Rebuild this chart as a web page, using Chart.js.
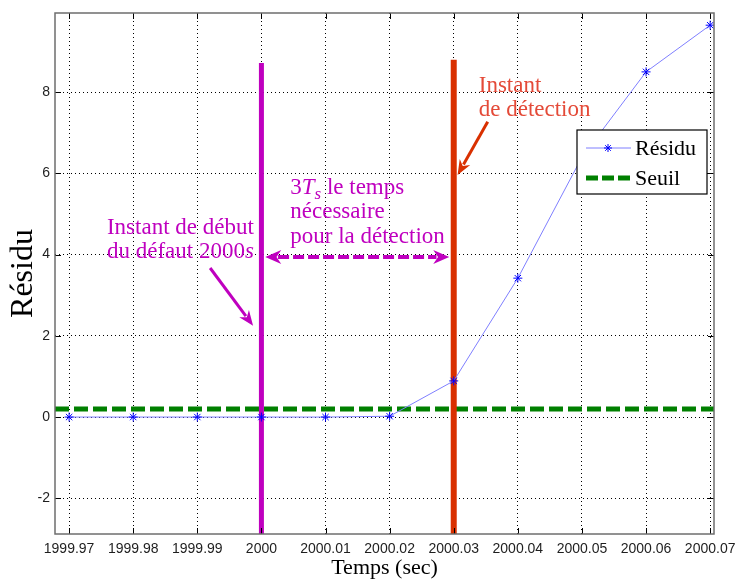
<!DOCTYPE html>
<html>
<head>
<meta charset="utf-8">
<title>Résidu</title>
<script src="https://cdn.jsdelivr.net/npm/chart.js@4/dist/chart.umd.min.js"></script>
<style>
    html, body { margin: 0; padding: 0; background: #fff; }
    #wrap { width: 737px; height: 579px; }
</style>
</head>
<body>
<div id="wrap"><canvas id="chart" width="737" height="579"></canvas></div>
<script>
// sample times (sec)
var temps = [1999.97, 1999.98, 1999.99, 2000, 2000.01, 2000.02, 2000.03, 2000.04, 2000.05, 2000.06, 2000.07];
// residual values
var residu = [0, 0, 0, 0, 0, 0.02, 0.89, 3.42, 6.4, 8.5, 9.65];
// detection threshold
var seuil = 0.2;
// tick values and labels
var xTicks = [1999.97, 1999.98, 1999.99, 2000, 2000.01, 2000.02, 2000.03, 2000.04, 2000.05, 2000.06, 2000.07];
var xTickLabels = ['1999.97', '1999.98', '1999.99', '2000', '2000.01', '2000.02', '2000.03', '2000.04', '2000.05', '2000.06', '2000.07'];
var yTicks = [-2, 0, 2, 4, 6, 8];
var yTickLabels = ['-2', '0', '2', '4', '6', '8'];
// axis limits
var xLimits = [1999.9678, 2000.0706];
var yLimits = [-2.88, 9.95];
// fault start and detection instants (x, top of the line)
var debut = [2000, 8.72];
var detection = [2000.03, 8.8];

var MAGENTA = '#bf00bf';
var RED = '#d93000';
var SERIF = '"Liberation Serif", "Times New Roman", serif';
var TXT = 23;

// build point lists for the library
function toPoints(xs, ys) {
    var pts = [];
    for (var i = 0; i < xs.length; i++) {
        pts.push({ x: xs[i], y: ys[i] });
    }
    return pts;
}

// draw a list of text runs (normal / italic / subscript) from x, y baseline
function drawRuns(ctx, x, y, runs, size, color) {
    ctx.fillStyle = color;
    ctx.textBaseline = 'alphabetic';
    ctx.textAlign = 'left';
    for (var i = 0; i < runs.length; i++) {
        var r = runs[i];
        var s = r.sub ? Math.round(size * 0.72) : size;
        ctx.font = (r.italic ? 'italic ' : '') + s + 'px ' + SERIF;
        ctx.fillText(r.t, x, y + (r.sub ? size * 0.22 : 0));
        x += ctx.measureText(r.t).width;
    }
}

// draw an arrow between two pixel points
function drawArrow(ctx, x1, y1, x2, y2, color, width, headLen, headHalf, dash, both) {
    var ang = Math.atan2(y2 - y1, x2 - x1);
    ctx.save();
    ctx.strokeStyle = color;
    ctx.fillStyle = color;
    ctx.lineWidth = width;
    ctx.setLineDash(dash || []);
    ctx.beginPath();
    var sx = both ? x1 + Math.cos(ang) * headLen * 0.8 : x1;
    var sy = both ? y1 + Math.sin(ang) * headLen * 0.8 : y1;
    ctx.moveTo(sx, sy);
    ctx.lineTo(x2 - Math.cos(ang) * headLen * 0.8, y2 - Math.sin(ang) * headLen * 0.8);
    ctx.stroke();
    ctx.setLineDash([]);
    var heads = both ? [[x2, y2, ang], [x1, y1, ang + Math.PI]] : [[x2, y2, ang]];
    heads.forEach(function(h) {
        var hx = h[0], hy = h[1], a = h[2];
        var bx = hx - Math.cos(a) * headLen, by = hy - Math.sin(a) * headLen;
        ctx.beginPath();
        ctx.moveTo(hx, hy);
        ctx.lineTo(bx + Math.sin(a) * headHalf, by - Math.cos(a) * headHalf);
        ctx.lineTo(hx - Math.cos(a) * headLen * 0.7, hy - Math.sin(a) * headLen * 0.7);
        ctx.lineTo(bx - Math.sin(a) * headHalf, by + Math.cos(a) * headHalf);
        ctx.closePath();
        ctx.fill();
    });
    ctx.restore();
}

// plugin that writes the annotations and arrows
var annotationsPlugin = {
    id: 'annotations',
    afterDatasetsDraw: function(chart) {
        var ctx = chart.ctx;
        var xs = chart.scales.x, ys = chart.scales.y;
        var px = function(v) { return xs.getPixelForValue(v); };
        var py = function(v) { return ys.getPixelForValue(v); };
        ctx.save();
        // start of fault text
        drawRuns(ctx, px(1999.9759), py(4.51), [{ t: 'Instant de début' }], TXT, MAGENTA);
        drawRuns(ctx, px(1999.9759), py(3.92), [{ t: 'du défaut 2000' }, { t: 's', italic: true }], TXT, MAGENTA);
        // delay text
        drawRuns(ctx, px(2000.0045), py(5.49), [{ t: '3' }, { t: 'T', italic: true }, { t: 's', italic: true, sub: true }, { t: ' le temps' }], TXT, MAGENTA);
        drawRuns(ctx, px(2000.0045), py(4.9), [{ t: 'nécessaire' }], TXT, MAGENTA);
        drawRuns(ctx, px(2000.0045), py(4.28), [{ t: 'pour la détection' }], TXT, MAGENTA);
        // detection text
        drawRuns(ctx, px(2000.0339), py(8.0), [{ t: 'Instant' }], TXT, '#e44a38');
        drawRuns(ctx, px(2000.0339), py(7.42), [{ t: 'de détection' }], TXT, '#e44a38');
        // arrows
        drawArrow(ctx, px(1999.9920), py(3.67), px(1999.9987), py(2.25), MAGENTA, 3, 15, 6, null, false);
        drawArrow(ctx, px(2000.0353), py(7.27), px(2000.0306), py(5.96), RED, 3, 15, 6, null, false);
        drawArrow(ctx, px(2000.0006), py(3.94), px(2000.0293), py(3.94), MAGENTA, 4, 16, 7, [11, 4], true);
        ctx.restore();
    },
    afterDraw: function(chart) {
        var ctx = chart.ctx;
        var area = chart.chartArea;
        var xs = chart.scales.x, ys = chart.scales.y;
        ctx.save();
        // inward tick marks on all four sides
        ctx.strokeStyle = '#000';
        ctx.lineWidth = 1;
        ctx.beginPath();
        xTicks.forEach(function(v) {
            var x = Math.round(xs.getPixelForValue(v)) + 0.5;
            ctx.moveTo(x, area.bottom); ctx.lineTo(x, area.bottom - 6);
            ctx.moveTo(x, area.top); ctx.lineTo(x, area.top + 6);
        });
        yTicks.forEach(function(v) {
            var y = Math.round(ys.getPixelForValue(v)) + 0.5;
            ctx.moveTo(area.left, y); ctx.lineTo(area.left + 6, y);
            ctx.moveTo(area.right, y); ctx.lineTo(area.right - 6, y);
        });
        ctx.stroke();
        // frame
        ctx.strokeStyle = '#6e6e6e';
        ctx.lineWidth = 1.5;
        ctx.strokeRect(area.left, area.top, area.right - area.left, area.bottom - area.top);

        // legend box
        var lx = area.right - 137, ly = area.top + 117, lw = 130, lh = 64;
        ctx.fillStyle = '#fff';
        ctx.fillRect(lx, ly, lw, lh);
        ctx.strokeStyle = '#000';
        ctx.lineWidth = 1.2;
        ctx.strokeRect(lx, ly, lw, lh);
        // Résidu entry
        var y1 = ly + 18;
        ctx.strokeStyle = '#7f7fff';
        ctx.lineWidth = 1;
        ctx.beginPath();
        ctx.moveTo(lx + 9, y1); ctx.lineTo(lx + 54, y1);
        ctx.stroke();
        ctx.strokeStyle = '#0000ff';
        ctx.beginPath();
        var cx = lx + 31, r = 4;
        ctx.moveTo(cx - r, y1); ctx.lineTo(cx + r, y1);
        ctx.moveTo(cx, y1 - r); ctx.lineTo(cx, y1 + r);
        ctx.moveTo(cx - r * 0.7, y1 - r * 0.7); ctx.lineTo(cx + r * 0.7, y1 + r * 0.7);
        ctx.moveTo(cx - r * 0.7, y1 + r * 0.7); ctx.lineTo(cx + r * 0.7, y1 - r * 0.7);
        ctx.stroke();
        drawRuns(ctx, lx + 58, y1 + 7, [{ t: 'Résidu' }], 22, '#000');
        // Seuil entry
        var y2 = ly + 48;
        ctx.strokeStyle = '#008000';
        ctx.lineWidth = 5;
        ctx.setLineDash([12, 4]);
        ctx.beginPath();
        ctx.moveTo(lx + 9, y2); ctx.lineTo(lx + 54, y2);
        ctx.stroke();
        ctx.setLineDash([]);
        drawRuns(ctx, lx + 58, y2 + 7, [{ t: 'Seuil' }], 22, '#000');
        ctx.restore();
    }
};

var ctx = document.getElementById('chart').getContext('2d');
var chart = new Chart(ctx, {
    type: 'line',
    data: {
        datasets: [{
            label: 'Résidu',
            data: toPoints(temps, residu),
            borderColor: '#7f7fff',
            borderWidth: 1,
            pointStyle: 'star',
            pointRadius: 4.5,
            pointBorderColor: '#0000ff',
            pointBorderWidth: 1,
            pointBackgroundColor: '#0000ff',
            order: 0
        }, {
            label: 'début',
            data: toPoints([debut[0], debut[0]], [yLimits[0], debut[1]]),
            borderColor: MAGENTA,
            borderWidth: 5,
            pointRadius: 0,
            order: 1
        }, {
            label: 'détection',
            data: toPoints([detection[0], detection[0]], [yLimits[0], detection[1]]),
            borderColor: RED,
            borderWidth: 6,
            pointRadius: 0,
            order: 1
        }, {
            label: 'Seuil',
            data: toPoints(xLimits, [seuil, seuil]),
            borderColor: '#008000',
            borderWidth: 5,
            borderDash: [14, 5],
            pointRadius: 0,
            order: 2
        }]
    },
    options: {
        responsive: false,
        animation: false,
        devicePixelRatio: 1,
        layout: { padding: { top: 13, right: 23, left: 0, bottom: 0 } },
        plugins: {
            legend: { display: false },
            tooltip: { enabled: false }
        },
        scales: {
            x: {
                type: 'linear',
                min: xLimits[0],
                max: xLimits[1],
                afterBuildTicks: function(scale) {
                    scale.ticks = xTicks.map(function(v) { return { value: v }; });
                },
                afterFit: function(scale) {
                    scale.height = 45;
                    scale.paddingLeft = 0;
                    scale.paddingRight = 0;
                },
                ticks: {
                    autoSkip: false,
                    maxRotation: 0,
                    padding: 7,
                    color: '#1e1e1e',
                    font: { family: '"Liberation Sans", Arial, sans-serif', size: 14 },
                    callback: function(value, index) { return xTickLabels[index]; }
                },
                grid: { color: '#000', lineWidth: 1, drawTicks: false },
                border: { display: false, dash: [1, 3] },
                title: {
                    display: true,
                    text: 'Temps (sec)',
                    color: '#000',
                    font: { family: SERIF, size: 22 },
                    padding: { top: 0, bottom: -2 }
                }
            },
            y: {
                type: 'linear',
                min: yLimits[0],
                max: yLimits[1],
                afterBuildTicks: function(scale) {
                    scale.ticks = yTicks.map(function(v) { return { value: v }; });
                },
                afterFit: function(scale) {
                    scale.width = 55;
                    scale.paddingTop = 0;
                    scale.paddingBottom = 0;
                },
                ticks: {
                    padding: 5,
                    color: '#1e1e1e',
                    font: { family: '"Liberation Sans", Arial, sans-serif', size: 14 },
                    callback: function(value, index) { return yTickLabels[index]; }
                },
                grid: { color: '#000', lineWidth: 1, drawTicks: false },
                border: { display: false, dash: [1, 3] },
                title: {
                    display: true,
                    text: 'Résidu',
                    color: '#000',
                    font: { family: SERIF, size: 32 },
                    padding: { top: 4, bottom: 0 }
                }
            }
        }
    },
    plugins: [annotationsPlugin]
});
</script>
</body>
</html>
